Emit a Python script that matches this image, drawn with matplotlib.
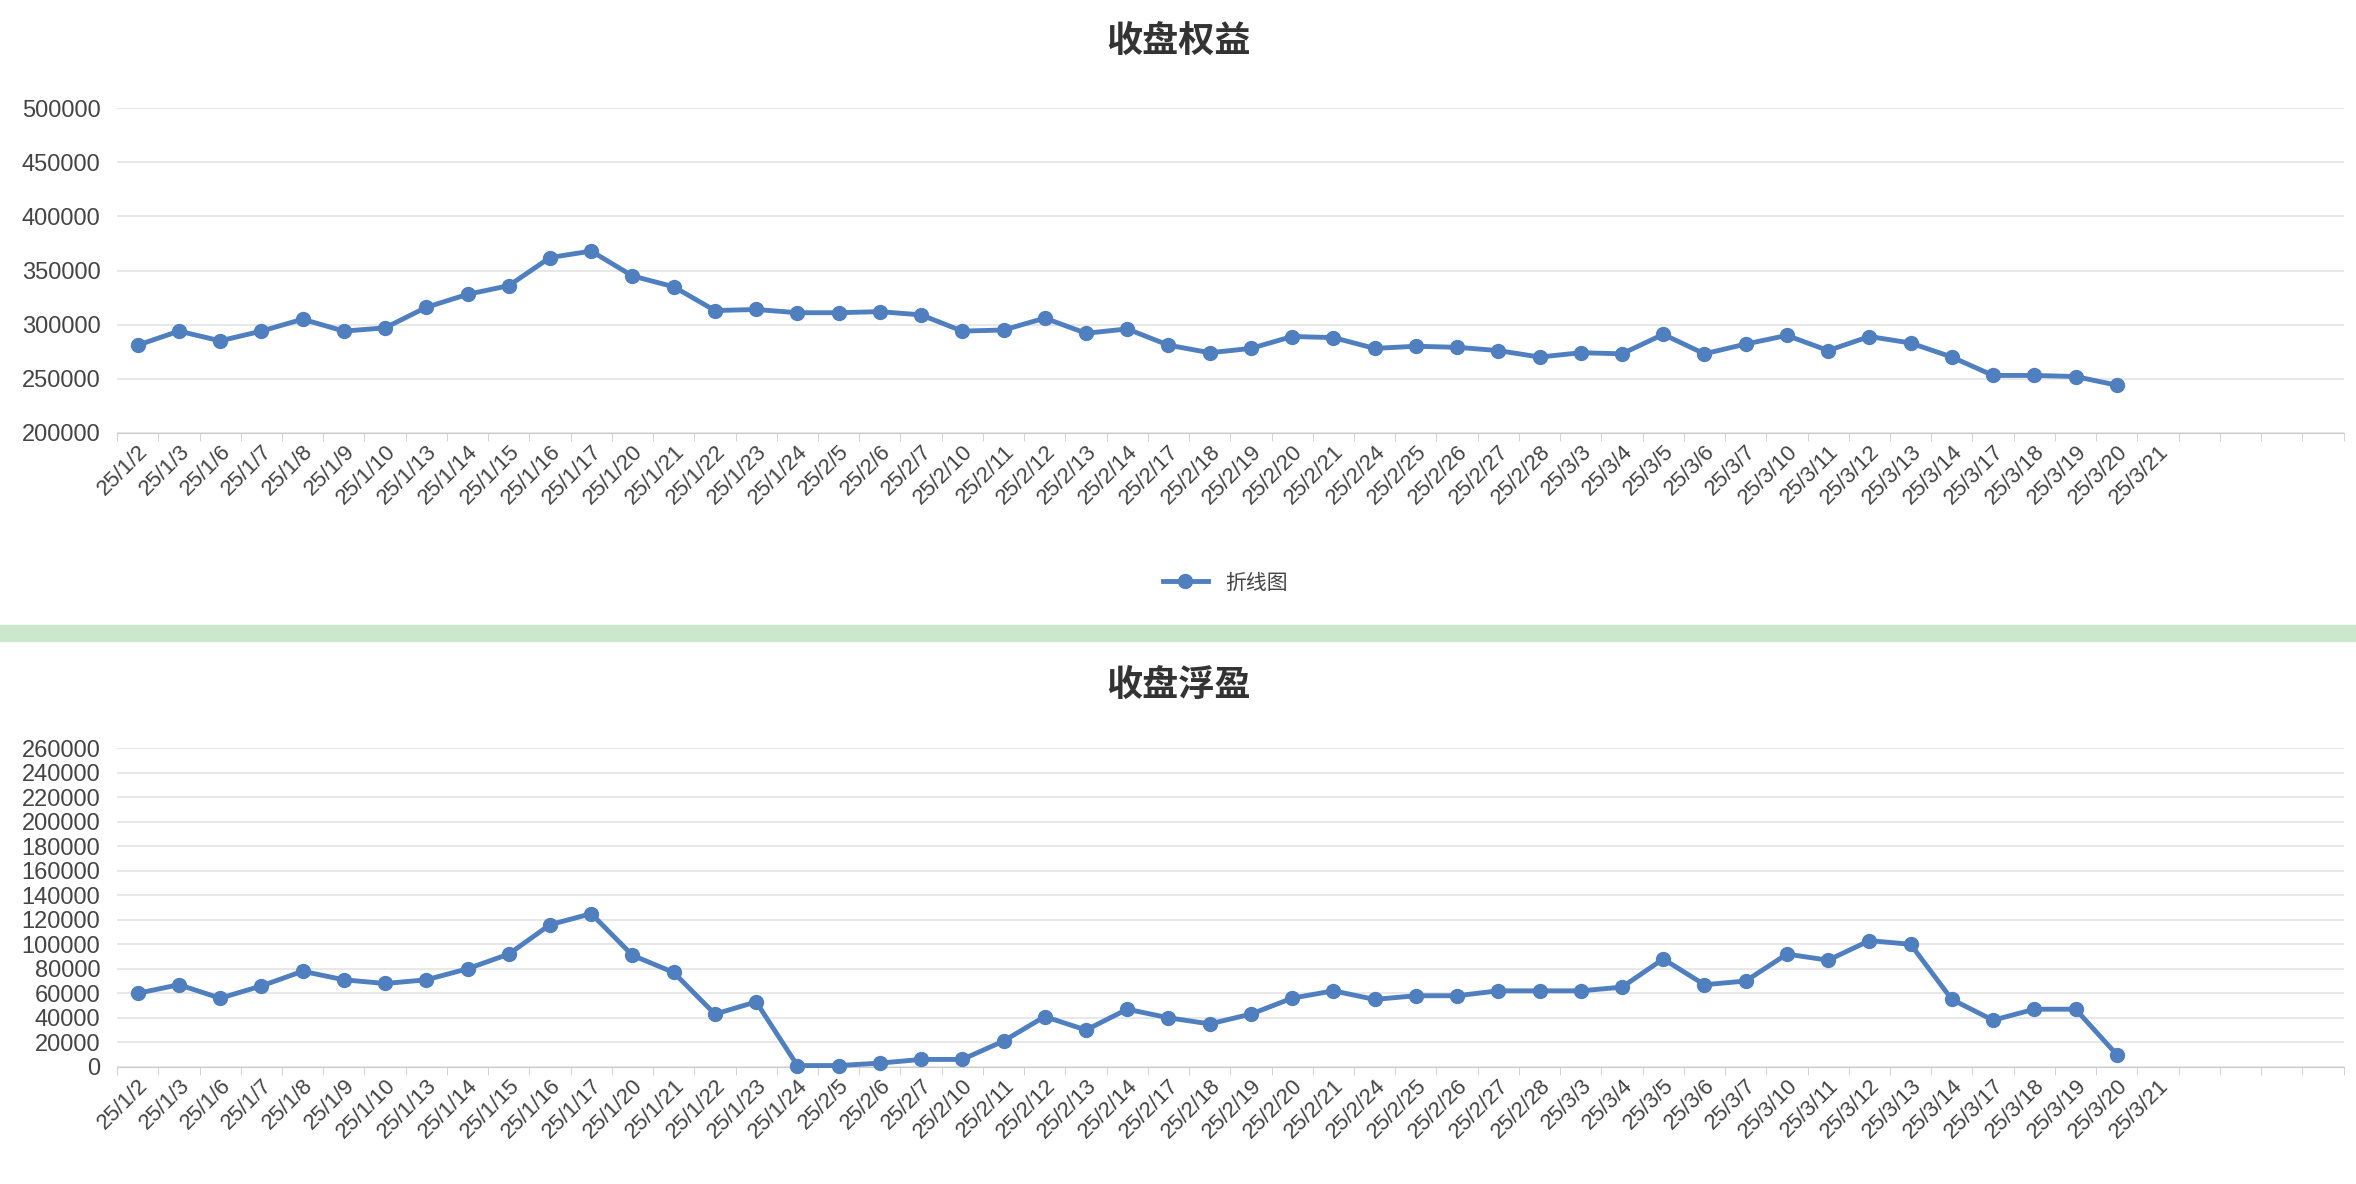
import matplotlib
matplotlib.use("Agg")
import matplotlib.pyplot as plt
from matplotlib.patches import Rectangle

plt.rcParams["font.family"] = ["Liberation Sans", "Noto Sans CJK SC", "DejaVu Sans"]

dates = ["25/1/2","25/1/3","25/1/6","25/1/7","25/1/8","25/1/9","25/1/10","25/1/13","25/1/14","25/1/15",
         "25/1/16","25/1/17","25/1/20","25/1/21","25/1/22","25/1/23","25/1/24","25/2/5","25/2/6","25/2/7",
         "25/2/10","25/2/11","25/2/12","25/2/13","25/2/14","25/2/17","25/2/18","25/2/19","25/2/20","25/2/21",
         "25/2/24","25/2/25","25/2/26","25/2/27","25/2/28","25/3/3","25/3/4","25/3/5","25/3/6","25/3/7",
         "25/3/10","25/3/11","25/3/12","25/3/13","25/3/14","25/3/17","25/3/18","25/3/19","25/3/20","25/3/21",
         "","","",""]
equity = [281000,294000,285000,294000,305000,294000,297000,316000,328000,336000,
          362000,368000,345000,335000,313000,314000,311000,311000,312000,309000,
          294000,295000,306000,292000,296000,281000,274000,278000,289000,288000,
          278000,280000,279000,276000,270000,274000,273000,291000,273000,282000,
          290000,276000,289000,283000,270000,253000,253000,252000,244000]
floating = [60000,67000,56000,66000,78000,71000,68000,71000,80000,92000,
            116000,125000,91000,77000,43000,53000,1000,1000,3000,6000,
            6000,21000,41000,30000,47000,40000,35000,43000,56000,62000,
            55000,58000,58000,62000,62000,62000,65000,88000,67000,70000,
            92000,87000,103000,100000,55000,38000,47000,47000,10000]

color = "#4f7fbe"
fig = plt.figure(figsize=(23.56, 11.84), dpi=100)
fig.patches.append(Rectangle((0, 0.459), 1, 0.013, transform=fig.transFigure,
                             color="#cce8cc", zorder=0))

def style(ax, yticks, title, ty):
    n = len(dates)
    ax.set_xlim(-0.5, n - 0.5)
    ax.set_xticks(range(n))
    ax.set_xticklabels(dates, rotation=45, ha="right", rotation_mode="anchor",
                       fontsize=16, color="#444444")
    ax.set_xticks([i - 0.5 for i in range(n + 1)], minor=True)
    ax.tick_params(axis="x", which="major", length=0, pad=6)
    ax.tick_params(axis="x", which="minor", length=6, color="#cccccc")
    ax.set_yticks(yticks)
    ax.set_ylim(yticks[0], yticks[-1])
    ax.tick_params(axis="y", length=0, labelsize=17, labelcolor="#444444", pad=12)
    ax.grid(axis="y", color="#e4e4e4", lw=1.2)
    ax.set_axisbelow(True)
    for s in ["top", "right", "left"]:
        ax.spines[s].set_visible(False)
    ax.spines["bottom"].set_color("#cccccc")
    fig.text(0.5, ty, title, ha="center", va="center", fontsize=26,
             fontweight="bold", color="#333333", family="Noto Sans CJK SC")

ax1 = fig.add_axes([0.0497, 0.6345, 0.945, 0.274])
ln, = ax1.plot(range(len(equity)), equity, color=color, lw=3.5, marker="o",
               markersize=10, label="折线图", zorder=3)
style(ax1, list(range(200000, 500001, 50000)), "收盘权益", 0.964)
fig.legend(handles=[ln], loc="center", bbox_to_anchor=(0.52, 0.508), frameon=False,
           prop={"family": "Noto Sans CJK SC", "size": 15}, labelcolor="#444444",
           handlelength=2.2)

ax2 = fig.add_axes([0.0497, 0.099, 0.945, 0.269])
ax2.plot(range(len(floating)), floating, color=color, lw=3.5, marker="o",
         markersize=10, zorder=3, clip_on=False)
style(ax2, list(range(0, 260001, 20000)), "收盘浮盈", 0.42)

fig.savefig("out.png", dpi=100)
